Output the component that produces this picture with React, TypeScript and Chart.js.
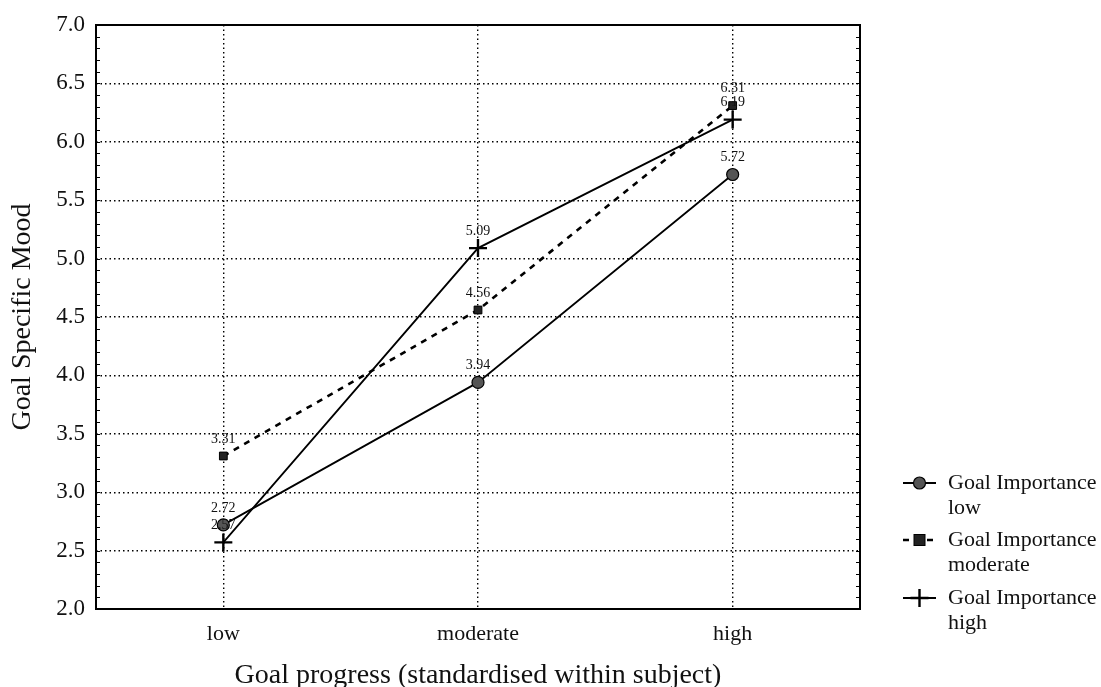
import React, { useEffect, useRef } from "react";
import { Chart, registerables } from "chart.js";

Chart.register(...registerables);

const categories = ["low", "moderate", "high"];
const lowImportance = [2.72, 3.94, 5.72];
const moderateImportance = [3.31, 4.56, 6.31];
const highImportance = [2.57, 5.09, 6.19];
const seriesNames = [
  ["Goal Importance", "low"],
  ["Goal Importance", "moderate"],
  ["Goal Importance", "high"],
];
const yMin = 2.0;
const yMax = 7.0;

const SERIF = "'Liberation Serif', 'Times New Roman', serif";

const framePlugin = {
  id: "frame",
  afterDraw(chart: any) {
    const { ctx, chartArea: a, scales } = chart;
    const y = scales.y;
    ctx.save();
    ctx.strokeStyle = "#000";
    ctx.lineWidth = 2;
    ctx.strokeRect(a.left, a.top, a.right - a.left, a.bottom - a.top);
    ctx.lineWidth = 1.2;
    for (let v = yMin + 0.1; v < yMax - 0.05; v += 0.1) {
      const py = Math.round(y.getPixelForValue(v)) + 0.5;
      ctx.beginPath();
      ctx.moveTo(a.left, py);
      ctx.lineTo(a.left + 4, py);
      ctx.moveTo(a.right, py);
      ctx.lineTo(a.right - 4, py);
      ctx.stroke();
    }
    ctx.restore();
  },
};

const labelPlugin = {
  id: "valueLabels",
  afterDatasetsDraw(chart: any) {
    const { ctx } = chart;
    ctx.save();
    ctx.font = `14px ${SERIF}`;
    ctx.fillStyle = "#111";
    ctx.textAlign = "center";
    ctx.textBaseline = "bottom";
    chart.data.datasets.forEach((ds: any, i: number) => {
      const meta = chart.getDatasetMeta(i);
      meta.data.forEach((pt: any, j: number) => {
        ctx.fillText(Number(ds.data[j]).toFixed(2), pt.x, pt.y - 10);
      });
    });
    ctx.restore();
  },
};

const legendPlugin = {
  id: "customLegend",
  afterDraw(chart: any) {
    const { ctx } = chart;
    const tops = [483, 540, 598];
    ctx.save();
    chart.data.datasets.forEach((ds: any, i: number) => {
      const y0 = tops[i];
      const x1 = 903;
      const x2 = 936;
      const xm = (x1 + x2) / 2;
      ctx.strokeStyle = "#000";
      ctx.lineWidth = ds.borderWidth;
      ctx.setLineDash(ds.borderDash || []);
      ctx.beginPath();
      ctx.moveTo(x1, y0);
      ctx.lineTo(x2, y0);
      ctx.stroke();
      ctx.setLineDash([]);
      ctx.fillStyle = ds.pointBackgroundColor;
      ctx.lineWidth = ds.pointBorderWidth;
      const r = ds.pointRadius;
      if (ds.pointStyle === "circle") {
        ctx.beginPath();
        ctx.arc(xm, y0, r, 0, Math.PI * 2);
        ctx.fill();
        ctx.stroke();
      } else if (ds.pointStyle === "rect") {
        ctx.fillRect(xm - r, y0 - r, 2 * r, 2 * r);
        ctx.strokeRect(xm - r, y0 - r, 2 * r, 2 * r);
      } else {
        ctx.beginPath();
        ctx.moveTo(xm - r, y0);
        ctx.lineTo(xm + r, y0);
        ctx.moveTo(xm, y0 - r);
        ctx.lineTo(xm, y0 + r);
        ctx.stroke();
      }
      ctx.fillStyle = "#111";
      ctx.font = `22px ${SERIF}`;
      ctx.textAlign = "left";
      ctx.textBaseline = "middle";
      const lines = seriesNames[i];
      lines.forEach((t, k) => ctx.fillText(t, 948, y0 + k * 25));
    });
    ctx.restore();
  },
};

export default function App() {
  const ref = useRef<HTMLCanvasElement | null>(null);
  useEffect(() => {
    if (!ref.current) return;
    const chart = new Chart(ref.current, {
      type: "line",
      data: {
        labels: categories,
        datasets: [
          {
            label: "Goal Importance low",
            data: lowImportance,
            borderColor: "#000",
            borderWidth: 1.8,
            pointStyle: "circle",
            pointRadius: 6,
            pointBackgroundColor: "#555",
            pointBorderColor: "#000",
            pointBorderWidth: 1.2,
            fill: false,
            tension: 0,
          },
          {
            label: "Goal Importance moderate",
            data: moderateImportance,
            borderColor: "#000",
            borderWidth: 2.6,
            borderDash: [6, 6],
            pointStyle: "rect",
            pointRadius: 5.5,
            pointBackgroundColor: "#222",
            pointBorderColor: "#000",
            pointBorderWidth: 1,
            fill: false,
            tension: 0,
          },
          {
            label: "Goal Importance high",
            data: highImportance,
            borderColor: "#000",
            borderWidth: 1.8,
            pointStyle: "cross",
            pointRadius: 9,
            pointBackgroundColor: "#000",
            pointBorderColor: "#000",
            pointBorderWidth: 2.4,
            fill: false,
            tension: 0,
          },
        ],
      },
      options: {
        animation: false,
        responsive: true,
        maintainAspectRatio: false,
        layout: { padding: { top: 25, right: 241, left: 0, bottom: 0 } },
        plugins: {
          legend: { display: false },
          tooltip: { enabled: false },
        },
        scales: {
          x: {
            type: "category",
            offset: true,
            afterFit: (s: any) => {
              s.height = 78;
            },
            grid: {
              offset: false,
              color: "#000",
              lineWidth: 1.4,
              drawTicks: false,
            },
            border: { display: false, dash: [1.5, 3] },
            ticks: {
              color: "#111",
              padding: 12,
              font: { family: SERIF, size: 22 },
            },
            title: {
              display: true,
              text: "Goal progress (standardised within subject)",
              color: "#111",
              font: { family: SERIF, size: 28, lineHeight: 1 },
              padding: { top: 0, bottom: -3 },
            },
          },
          y: {
            min: yMin,
            max: yMax,
            afterFit: (s: any) => {
              s.width = 96;
            },
            grid: {
              color: (c: any) =>
                c.tick && (c.tick.value <= yMin + 1e-6 || c.tick.value >= yMax - 1e-6)
                  ? "rgba(0,0,0,0)"
                  : "#000",
              lineWidth: 1.4,
              drawTicks: false,
            },
            border: { display: false, dash: [1.5, 3] },
            ticks: {
              stepSize: 0.5,
              color: "#111",
              padding: 11,
              font: { family: SERIF, size: 23 },
              callback: (v: any) => Number(v).toFixed(1),
            },
            title: {
              display: true,
              text: "Goal Specific Mood",
              color: "#111",
              font: { family: SERIF, size: 28, lineHeight: 1 },
              padding: { top: 9, bottom: 0 },
            },
          },
        },
      },
      plugins: [framePlugin, labelPlugin, legendPlugin],
    });
    return () => chart.destroy();
  }, []);
  return (
    <div style={{ position: "absolute", left: 0, top: 0, width: 1101, height: 687 }}>
      <canvas ref={ref} />
    </div>
  );
}
